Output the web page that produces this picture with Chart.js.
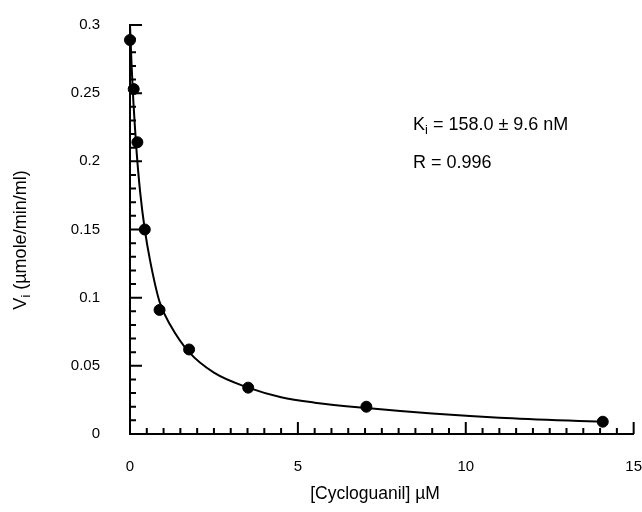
<!DOCTYPE html>
<html>
<head>
<meta charset="utf-8">
<script src="https://cdn.jsdelivr.net/npm/chart.js@4.4.0/dist/chart.umd.min.js"></script>
<style>
  html, body { margin: 0; padding: 0; background: #fff; }
  #wrap { width: 642px; height: 512px; }
</style>
</head>
<body>
<div id="wrap"><canvas id="chart"></canvas></div>
<script>
// measured points: [Cycloguanil] (uM) vs Vi
var concentration = [0, 0.11, 0.22, 0.44, 0.88, 1.76, 3.52, 7.04, 14.08];
var velocity = [0.289, 0.253, 0.214, 0.150, 0.091, 0.062, 0.034, 0.020, 0.009];

// fitted curve
var fitX = [0, 0.05, 0.1, 0.15, 0.2, 0.3, 0.44, 0.6, 0.88, 1.2, 1.76, 2.5, 3.52, 4.5, 5.5, 7.04, 9, 11, 14.08];
var fitY = [0.300, 0.269, 0.244, 0.224, 0.206, 0.178, 0.150, 0.127, 0.097, 0.080, 0.060, 0.045, 0.034, 0.027, 0.023, 0.019, 0.015, 0.012, 0.009];

var xTicks = [0, 5, 10, 15];
var yTicks = [0, 0.05, 0.1, 0.15, 0.2, 0.25, 0.3];

var FONT = "Liberation Sans, Arial, Helvetica, sans-serif";

function toXY(xs, ys) {
  return xs.map(function (v, i) { return { x: v, y: ys[i] }; });
}

// width of text made of parts = [[text, isSub], ...]
function partsWidth(ctx, parts, size) {
  var w = 0;
  parts.forEach(function (p) {
    ctx.font = (p[1] ? size * 0.72 : size) + "px " + FONT;
    w += ctx.measureText(p[0]).width;
  });
  return w;
}

function drawParts(ctx, parts, x, y, size) {
  var cx = x;
  parts.forEach(function (p) {
    ctx.font = (p[1] ? size * 0.72 : size) + "px " + FONT;
    ctx.fillText(p[0], cx, p[1] ? y + size * 0.32 : y);
    cx += ctx.measureText(p[0]).width;
  });
}

var frame = {
  id: "frame",
  afterDatasetsDraw: function (chart) {
    var ctx = chart.ctx;
    var xs = chart.scales.x, ys = chart.scales.y;
    var left = chart.chartArea.left, bottom = chart.chartArea.bottom;
    ctx.save();
    // inward ticks
    ctx.strokeStyle = "#000";
    ctx.lineWidth = 2;
    ctx.beginPath();
    for (var i = 1; i <= 30; i++) {
      var px = xs.getPixelForValue(i * 0.5);
      var len = i % 10 === 0 ? 12 : 6;
      ctx.moveTo(px, bottom);
      ctx.lineTo(px, bottom - len);
    }
    for (var j = 1; j <= 30; j++) {
      var py = ys.getPixelForValue(j * 0.01);
      var len2 = j % 5 === 0 ? 12 : 6;
      ctx.moveTo(left, py);
      ctx.lineTo(left + len2, py);
    }
    ctx.stroke();

    ctx.fillStyle = "#000";
    ctx.textBaseline = "middle";
    ctx.textAlign = "left";
    // annotations
    drawParts(ctx, [["K", false], ["i", true], [" = 158.0 \u00b1 9.6 nM", false]], 413, 125, 18);
    drawParts(ctx, [["R = 0.996", false]], 413, 163, 18);

    // x axis title
    var xt = [["[Cycloguanil] \u00b5M", false]];
    drawParts(ctx, xt, 375 - partsWidth(ctx, xt, 17.5) / 2, 494, 17.5);

    // y axis title with subscript
    ctx.translate(21, 240);
    ctx.rotate(-Math.PI / 2);
    var yt = [["V", false], ["i", true], [" (\u00b5mole/min/ml)", false]];
    drawParts(ctx, yt, -partsWidth(ctx, yt, 18) / 2, 0, 18);
    ctx.restore();
  }
};

var ctx = document.getElementById("chart").getContext("2d");
var chart = new Chart(ctx, {
  type: "scatter",
  data: {
    datasets: [
      {
        type: "line",
        data: toXY(fitX, fitY),
        borderColor: "#000",
        borderWidth: 2,
        pointRadius: 0,
        cubicInterpolationMode: "monotone",
        fill: false,
        clip: false,
      },
      {
        data: toXY(concentration, velocity),
        backgroundColor: "#000",
        borderColor: "#000",
        pointRadius: 5.5,
        clip: false,
      },
    ],
  },
  options: {
    responsive: true,
    maintainAspectRatio: false,
    animation: false,
    layout: { padding: { top: 25, right: 8, left: 0, bottom: 0 } },
    plugins: { legend: { display: false }, tooltip: { enabled: false } },
    scales: {
      x: {
        type: "linear",
        min: 0,
        max: 15,
        afterBuildTicks: function (s) {
          s.ticks = xTicks.map(function (v) { return { value: v }; });
        },
        grid: {
          display: true,
          drawOnChartArea: false,
          drawTicks: true,
          tickLength: 24,
          tickColor: "rgba(0,0,0,0)",
        },
        border: { display: true, color: "#000", width: 2 },
        ticks: {
          color: "#000",
          padding: 0,
          font: { family: FONT, size: 15 },
          maxRotation: 0,
        },
        afterFit: function (s) { s.height = 78; },
      },
      y: {
        type: "linear",
        min: 0,
        max: 0.3,
        afterBuildTicks: function (s) {
          s.ticks = yTicks.map(function (v) { return { value: v }; });
        },
        grid: {
          display: true,
          drawOnChartArea: false,
          drawTicks: true,
          tickLength: 30,
          tickColor: "rgba(0,0,0,0)",
        },
        border: { display: true, color: "#000", width: 2 },
        ticks: {
          color: "#000",
          padding: 0,
          font: { family: FONT, size: 15 },
          callback: function (v) { return String(+v.toFixed(2)); },
        },
        afterFit: function (s) { s.width = 130; },
      },
    },
  },
  plugins: [frame],
});
</script>
</body>
</html>
